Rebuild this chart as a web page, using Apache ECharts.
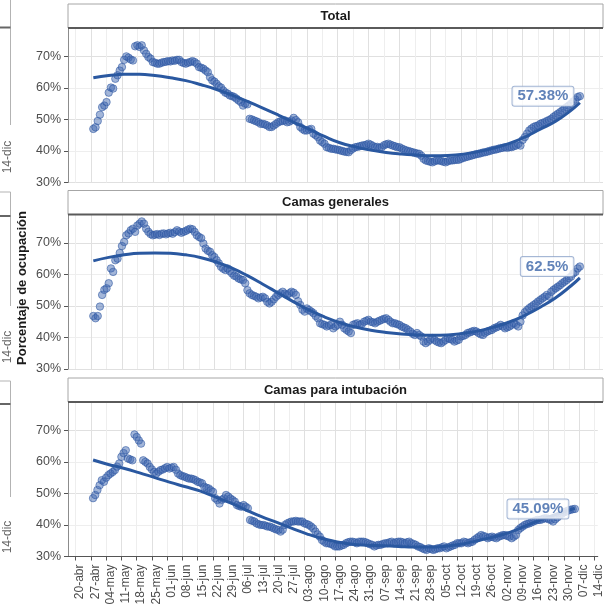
<!DOCTYPE html>
<html>
<head>
<meta charset="utf-8">
<script src="https://cdn.jsdelivr.net/npm/echarts@6/dist/echarts.min.js"></script>
<style>
html,body{margin:0;padding:0;background:#fff;}
#chart{width:605px;height:608px;}
</style>
</head>
<body>
<div id="chart"></div>
<script>
// Weekly tick labels (day 0 = 20-abr)
const tickLabels = ['20-abr','27-abr','04-may','11-may','18-may','25-may','01-jun','08-jun','15-jun','22-jun','29-jun','06-jul','13-jul','20-jul','27-jul','03-ago','10-ago','17-ago','24-ago','31-ago','07-sep','14-sep','21-sep','28-sep','05-oct','12-oct','19-oct','26-oct','02-nov','09-nov','16-nov','23-nov','30-nov','07-dic','14-dic'];
const panelTitles = ['Total', 'Camas generales', 'Camas para intubación'];
const lastLabels = ['57.38%', '62.5%', '45.09%'];
const startDay = 8; // first daily observation (28-abr)

const totalVals = [
  47.0, 47.5, 49.5, 51.5, 53.9, 54.4, 55.5,
  58.5, 60.1, 59.8, 62.9, 64.0, 65.5, 66.6,
  68.9, 70.0, 69.6, 69.0, 68.7, 73.2, 73.5,
  73.0, 73.5, 71.9, 70.8, 69.8, 69.3, 68.2,
  68.0, 67.7, 67.7, 68.0, 68.2, 68.3, 68.5,
  68.4, 68.7, 68.6, 68.9, 68.9, 68.2, 67.9,
  67.7, 68.0, 68.2, 68.5, 68.2, 67.7, 66.6,
  66.4, 66.1, 65.5, 65.0, 63.4, 62.4, 62.0,
  61.3, 60.5, 60.1, 59.2, 58.5, 58.2, 57.6,
  57.4, 57.1, 56.6, 56.0, 55.5, 54.4, 55.0,
  54.8, 50.2, 50.0, 49.7, 49.4, 49.1, 48.6,
  48.6, 48.4, 48.1, 47.6, 47.6, 48.1, 48.6,
  49.1, 49.4, 49.5, 49.7, 49.1, 49.3, 49.7,
  50.5, 49.8, 49.1, 47.6, 47.0, 46.5, 46.5,
  46.8, 47.0, 45.5, 45.0, 44.4, 43.3, 42.8,
  42.3, 41.2, 41.0, 40.7, 40.7, 40.5, 40.4,
  40.2, 40.0, 39.8, 39.7, 39.6, 40.3, 40.8,
  41.2, 41.3, 41.5, 41.7, 41.8, 42.0, 42.3,
  42.0, 41.6, 41.2, 41.3, 41.0, 41.2, 41.8,
  42.1, 42.3, 42.0, 41.7, 41.5, 41.2, 41.2,
  40.8, 40.5, 40.2, 40.0, 39.8, 39.6, 39.4,
  39.2, 39.1, 38.5, 37.5, 37.0, 36.8, 36.6,
  36.4, 36.7, 37.0, 37.0, 36.8, 36.6, 36.4,
  36.7, 37.0, 37.0, 37.1, 37.2, 37.2, 37.5,
  37.8, 38.0, 38.2, 38.4, 38.6, 38.8, 39.0,
  39.1, 39.3, 39.5, 39.6, 39.8, 40.0, 40.2,
  40.4, 40.5, 40.7, 40.9, 41.0, 41.2, 41.0,
  41.2, 41.2, 41.5, 41.7, 42.2, 41.7, 43.5,
  44.4, 45.5, 46.5, 47.1, 47.6, 47.9, 48.1,
  48.6, 48.9, 49.1, 49.5, 49.8, 50.2, 50.8,
  51.3, 51.8, 52.3, 52.8, 53.4, 53.9, 54.4,
  55.0, 55.7, 56.3, 57.1, 57.38
];

const generalVals = [
  46.8, 46.1, 46.8, 49.8, 53.5, 55.1, 55.6,
  57.2, 61.9, 60.8, 64.5, 65.0, 66.8, 69.0,
  70.3, 72.4, 73.0, 74.0, 74.5, 73.5, 75.5,
  76.1, 76.8, 76.1, 74.5, 73.5, 72.8, 72.4,
  72.6, 72.8, 72.5, 72.9, 73.0, 72.7, 73.0,
  73.2, 72.9, 73.4, 74.0, 73.6, 73.2, 73.5,
  73.8, 74.2, 74.5, 74.3, 73.5, 72.4, 71.9,
  71.5, 69.8, 68.2, 67.5, 67.2, 66.1, 65.5,
  64.5, 63.5, 62.4, 61.8, 61.4, 61.9, 61.0,
  60.3, 59.6, 59.3, 58.7, 58.4, 58.2, 57.2,
  55.0, 54.0, 53.5, 53.2, 52.9, 52.4, 52.7,
  52.9, 52.4, 51.3, 50.8, 51.3, 52.1, 52.9,
  53.5, 54.0, 54.5, 53.9, 53.5, 54.0, 54.5,
  54.2, 53.5, 51.5, 50.3, 48.8, 48.2, 49.2,
  48.7, 48.2, 47.7, 46.8, 46.1, 44.5, 44.2,
  44.0, 43.5, 43.8, 44.0, 42.9, 43.5, 44.0,
  45.0, 44.0, 42.9, 42.4, 41.9, 41.4, 44.0,
  44.3, 44.5, 44.0, 44.3, 45.0, 45.3, 45.6,
  45.0, 44.8, 44.5, 45.0, 45.3, 45.6, 45.9,
  46.1, 45.6, 45.0, 44.5, 44.5, 44.2, 44.0,
  43.5, 43.2, 42.9, 42.4, 41.9, 41.2, 40.8,
  41.4, 40.8, 40.3, 38.7, 38.2, 38.7, 39.3,
  39.8, 39.2, 38.7, 38.4, 38.2, 38.7, 39.2,
  39.8, 39.5, 39.3, 38.7, 39.0, 39.3, 40.3,
  40.5, 40.8, 41.4, 41.6, 41.9, 42.1, 41.9,
  41.4, 41.0, 40.8, 41.5, 41.9, 42.2, 42.4,
  42.9, 43.2, 43.5, 44.0, 43.5, 42.9, 43.2,
  43.5, 44.0, 44.5, 44.0, 43.5, 45.0, 47.0,
  48.0, 48.7, 49.3, 49.8, 50.3, 50.8, 51.4,
  51.9, 52.4, 52.9, 53.5, 53.0, 54.5, 55.1,
  55.6, 56.1, 56.6, 57.2, 57.7, 58.2, 58.8,
  59.3, 60.3, 60.8, 61.9, 62.5
];

const intubVals = [
  48.5, 49.5, 51.1, 52.6, 54.2, 53.7, 55.0,
  55.8, 56.3, 56.8, 57.4, 58.5, 59.5, 61.6,
  62.8, 63.7, 61.1, 60.8, 60.5, 68.7, 67.9,
  66.8, 65.8, 60.5, 60.0, 59.5, 58.4, 57.6,
  56.8, 56.3, 56.9, 57.4, 57.6, 58.0, 58.4,
  57.9, 58.2, 58.4, 57.5, 56.3, 55.8, 55.5,
  55.3, 55.0, 54.7, 54.7, 54.5, 54.2, 53.7,
  53.5, 53.2, 52.1, 51.8, 51.6, 51.0, 50.5,
  48.5, 47.9, 46.8, 48.0, 48.4, 49.5, 49.0,
  48.4, 47.9, 47.4, 46.3, 46.0, 45.8, 46.3,
  45.8, 45.3, 41.6, 41.3, 41.1, 40.5, 40.2,
  40.0, 40.0, 39.8, 39.5, 39.5, 39.2, 38.9,
  38.6, 38.4, 37.9, 38.5, 40.0, 40.5, 40.8,
  41.1, 41.1, 41.3, 41.1, 41.1, 41.1, 40.5,
  40.3, 40.0, 39.5, 38.9, 37.9, 37.0, 36.3,
  35.2, 34.7, 34.2, 34.2, 34.0, 33.7, 33.2,
  33.2, 33.2, 33.5, 33.7, 34.2, 34.5, 34.7,
  34.7, 34.5, 34.2, 34.7, 34.7, 34.7, 34.5,
  34.2, 33.9, 33.7, 33.2, 33.5, 33.7, 33.7,
  34.0, 34.2, 34.2, 34.5, 34.7, 34.2, 34.5,
  34.7, 34.7, 34.5, 34.2, 34.5, 34.7, 34.2,
  34.0, 33.7, 33.2, 33.0, 32.6, 32.3, 32.1,
  32.6, 32.4, 32.1, 32.3, 32.6, 32.6, 32.9,
  33.2, 32.6, 32.9, 33.2, 33.5, 33.7, 34.2,
  34.2, 34.2, 34.7, 34.5, 34.2, 34.5, 34.7,
  35.3, 35.8, 36.3, 36.8, 36.5, 36.3, 35.8,
  36.1, 36.3, 36.0, 35.8, 36.3, 36.5, 36.8,
  36.8, 36.5, 36.3, 35.8, 36.3, 36.8, 38.4,
  39.0, 39.5, 40.0, 40.3, 40.5, 40.8, 41.1,
  41.4, 41.6, 41.6, 41.8, 42.1, 42.1, 41.8,
  41.6, 41.1, 41.8, 42.4, 43.0, 43.5, 44.0,
  44.3, 44.6, 44.8, 45.0, 45.09
];

// Smoothed trend, read at weekly points (days since 20-abr)
const trendDays = [8,15,22,29,36,43,50,57,64,71,78,85,92,99,106,113,120,127,134,141,148,155,162,169,176,183,190,197,204,211,218,225,229];
const totalTrend = [63.2,63.9,64.3,64.3,63.9,63.2,62.3,61.0,59.5,57.7,55.7,53.6,51.4,49.1,46.9,44.6,42.6,41.3,40.3,39.5,39.0,38.7,38.5,38.6,39.0,39.8,40.9,42.4,44.4,46.9,49.4,52.9,55.3];
const generalTrend = [64.3,65.4,66.2,66.7,66.8,66.7,66.2,65.3,63.9,62.0,59.6,56.9,54.1,51.3,48.7,46.5,44.7,43.3,42.3,41.6,41.1,40.8,40.7,40.8,41.3,42.1,43.3,44.9,47.0,49.6,52.6,56.4,58.9];
const intubTrend = [60.6,59.2,58.0,56.6,55.1,53.6,52.2,50.8,48.9,47.0,44.8,42.7,40.9,39.0,37.2,35.7,34.6,33.9,33.6,33.4,33.2,33.0,33.0,33.2,33.8,34.8,35.9,37.2,39.0,41.0,42.8,44.4,45.3];

const yTicks = [30, 40, 50, 60, 70];

const panels = [
  {vals: totalVals, trend: totalTrend},
  {vals: generalVals, trend: generalTrend},
  {vals: intubVals, trend: intubTrend}
];

const FONT = '"Liberation Sans", Arial, sans-serif';
const GL = 68, GW = 535, GH = 154.5;
const gridTops = [28, 214.5, 402];
const stripTops = [4, 190.5, 378];
const tickDays = tickLabels.map((_, i) => i * 7);

const grids = [], xAxes = [], yAxes = [], series = [], graphics = [];

panels.forEach((p, i) => {
  const last = i === panels.length - 1;
  grids.push({left: GL, top: gridTops[i], width: GW, height: GH, containLabel: false});
  xAxes.push({
    type: 'value', gridIndex: i, min: -3.5, max: 239.5, interval: 3.5,
    axisLine: {show: last, onZero: false, lineStyle: {color: '#555', width: 1}},
    axisTick: {show: last, customValues: tickDays, length: 4, lineStyle: {color: '#555'}},
    axisLabel: {
      show: last, customValues: tickDays, rotate: 90, margin: 8,
      verticalAlign: 'top', lineHeight: 9,
      formatter: v => tickLabels[Math.round(v / 7)] || '',
      fontSize: 12, color: '#4d4d4d', fontFamily: FONT
    },
    splitLine: {show: true, lineStyle: {color: ['#eeeeee', '#e0e0e0'], width: 1}}
  });
  yAxes.push({
    type: 'value', gridIndex: i, min: 30, max: 79, interval: 5,
    axisLine: {show: true, onZero: false, lineStyle: {color: '#8c8c8c', width: 1}},
    axisTick: {show: true, customValues: yTicks, length: 4, lineStyle: {color: '#555'}},
    axisLabel: {customValues: yTicks, formatter: '{value}%', fontSize: 12.5, color: '#4d4d4d', fontFamily: FONT, margin: 7},
    splitLine: {show: true, lineStyle: {color: ['#e0e0e0', '#eeeeee'], width: 1}}
  });
  series.push({
    type: 'scatter', xAxisIndex: i, yAxisIndex: i, symbolSize: 7.5, z: 2,
    data: p.vals.map((v, k) => [startDay + k, v]),
    itemStyle: {color: 'rgba(62,102,176,0.6)', borderColor: 'rgba(45,85,160,0.7)', borderWidth: 1}
  });
  series.push({
    type: 'line', xAxisIndex: i, yAxisIndex: i, smooth: 0.5, showSymbol: false, z: 3,
    data: p.trend.map((v, k) => [trendDays[k], v]),
    lineStyle: {color: '#2a58a0', width: 3}
  });
  const lastIdx = p.vals.length - 1;
  series.push({
    type: 'scatter', xAxisIndex: i, yAxisIndex: i, symbolSize: 1, z: 5,
    data: [[startDay + lastIdx, p.vals[lastIdx]]],
    itemStyle: {color: 'rgba(0,0,0,0)'},
    label: {
      show: true, position: 'left', distance: 6, formatter: lastLabels[i],
      backgroundColor: '#fff', borderColor: '#8ea5ca', borderWidth: 1, borderRadius: 2,
      padding: [2, 5, 1, 5], lineHeight: 16,
      color: '#3a64a8', fontWeight: 'bold', fontSize: 15, fontFamily: FONT
    }
  });
  // facet strip
  graphics.push({type: 'rect', shape: {x: GL, y: stripTops[i], width: GW, height: gridTops[i] - stripTops[i]},
    style: {fill: '#fff', stroke: '#a6a6a6', lineWidth: 1}, z: 10});
  graphics.push({type: 'line', shape: {x1: GL, y1: gridTops[i], x2: GL + GW, y2: gridTops[i]},
    style: {stroke: '#5a5a5a', lineWidth: 2}, z: 11});
  graphics.push({type: 'text', x: GL + GW / 2, y: (stripTops[i] + gridTops[i]) / 2, z: 12,
    style: {text: panelTitles[i], fill: '#1a1a1a', font: 'bold 13px ' + FONT, align: 'center', verticalAlign: 'middle'}});
});

// partial neighbouring figure at the left edge
const leftBoxes = [[-5, 27.5, 125, 157], [192, 216, 306, 347], [381, 404, 497, 537]];
leftBoxes.forEach(b => {
  graphics.push({type: 'line', shape: {x1: 10.5, y1: Math.max(b[0], 0), x2: 10.5, y2: b[2]}, style: {stroke: '#b3b3b3', lineWidth: 1}});
  if (b[0] > 0) graphics.push({type: 'line', shape: {x1: 0, y1: b[0], x2: 10.5, y2: b[0]}, style: {stroke: '#b3b3b3', lineWidth: 1}});
  graphics.push({type: 'line', shape: {x1: 0, y1: b[1], x2: 10.5, y2: b[1]}, style: {stroke: '#666', lineWidth: 2}});
  graphics.push({type: 'text', x: 8, y: b[3], rotation: Math.PI / 2,
    style: {text: '14-dic', fill: '#666', font: '12px ' + FONT, align: 'center', verticalAlign: 'middle'}});
});

// y axis title
graphics.push({type: 'text', x: 22, y: 288, rotation: Math.PI / 2,
  style: {text: 'Porcentaje de ocupación', fill: '#1a1a1a', font: 'bold 13px ' + FONT, align: 'center', verticalAlign: 'middle'}});

const chart = echarts.init(document.getElementById('chart'), null, {renderer: 'canvas'});
chart.setOption({
  animation: false,
  backgroundColor: '#fff',
  textStyle: {fontFamily: FONT},
  grid: grids, xAxis: xAxes, yAxis: yAxes, series: series,
  graphic: graphics
});
</script>
</body>
</html>
